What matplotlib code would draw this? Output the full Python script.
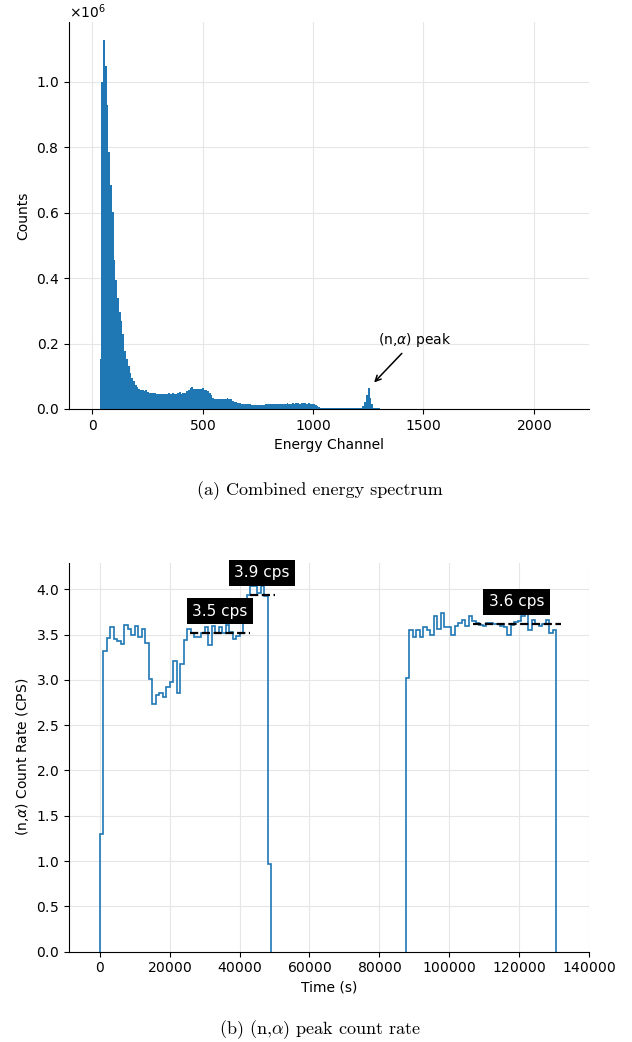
import matplotlib
matplotlib.use("Agg")
import matplotlib.pyplot as plt
import numpy as np

# energy spectrum, 8-channel bins starting at channel 0, counts in thousands
bin_width = 8
spec_k = [
    0, 0, 0, 0, 153, 1000, 1126, 1049, 930, 786,          # 0-9
    683, 601, 455, 393, 339, 297, 270, 230, 178, 153,     # 10-19
    132, 109, 95, 85, 74, 66, 62, 59, 57, 55,             # 20-29
    57, 51, 49, 48, 48, 50, 45, 45, 46, 45,               # 30-39
    46, 46, 47, 48, 47, 50, 47, 47, 48, 51,               # 40-49
    47, 48, 50, 55, 58, 63, 66, 61, 60, 61,               # 50-59
    60, 62, 65, 58, 57, 54, 48, 42, 35, 31,               # 60-69
    30, 30, 30, 31, 32, 32, 33, 32, 30, 25,               # 70-79
    22, 20, 19, 17, 16, 15, 15, 15, 14, 14,               # 80-89
    13, 12, 12, 12, 12, 13, 13, 13, 14, 15,               # 90-99
    15, 15, 16, 15, 16, 16, 16, 15, 16, 16,               # 100-109
    17, 16, 16, 17, 16, 17, 17, 16, 17, 17,               # 110-119
    17, 16, 17, 16, 15, 14, 11, 8, 5, 4,                  # 120-129
    3, 3, 3, 2, 2, 2, 2, 2, 2, 2,                         # 130-139
    2, 2, 2, 2, 2, 2, 2, 2, 3, 3,                         # 140-149
    3, 3, 4, 8, 20, 43, 64, 35, 15, 4,                    # 150-159
    2, 1.5, 1.5, 1.2, 1.2, 1, 1, 1, 1, 1,                 # 160-169
    1, 1, 1, 1, 1, 1, 1, 1, 1, 1,                         # 170-179
    1, 1, 1, 1, 1, 1, 1, 1, 1, 1,                         # 180-189
    0.6, 0.6, 0.6, 0.6, 0.6, 0.6, 0.6, 0.6, 0.6, 0.6,     # 190-199
    0.6, 0.6, 0.6, 0.6, 0.6, 0.6, 0.6, 0.6, 0.6, 0.6,     # 200-209
    0.6, 0.6, 0.6, 0.6, 0.6, 0.6, 0.6, 0.6, 0.6, 0.6,     # 210-219
    0.4, 0.4, 0.4, 0.4, 0.4, 0.4, 0.4, 0.4, 0.4, 0.4,     # 220-229
    0.4, 0.4, 0.4, 0.4, 0.4, 0.4, 0.4, 0.4, 0.4, 0.4,     # 230-239
    0.4, 0.4, 0.4, 0.4, 0.4, 0.4, 0.4, 0.4, 0.4, 0.4,     # 240-249
    0.4, 0.4, 0.4, 0.4, 0.4, 0.4, 0.4, 0.4, 0.4, 0.4,     # 250-259
    0.4, 0.4, 0.4, 0.4, 0.4, 0.4, 0.4, 0.4,               # 260-267
]

# (n,alpha) count rate, 1000 s bins
t_bin = 1000
run1_start = 0
rate1 = [1.30, 3.32, 3.46, 3.58, 3.45, 3.43, 3.40, 3.61, 3.56, 3.50,
         3.60, 3.47, 3.56, 3.41, 3.01, 2.73, 2.83, 2.86, 2.81, 2.92,
         2.98, 3.21, 2.85, 3.17, 3.44, 3.56, 3.52, 3.47, 3.47, 3.52,
         3.58, 3.39, 3.60, 3.52, 3.58, 3.52, 3.61, 3.53, 3.45, 3.48,
         3.52, 3.66, 3.94, 4.04, 4.04, 3.96, 4.04, 3.93, 0.97]
run2_start = 87600
rate2 = [3.02, 3.55, 3.47, 3.55, 3.47, 3.58, 3.55, 3.50, 3.71, 3.56,
         3.74, 3.58, 3.58, 3.50, 3.60, 3.63, 3.66, 3.60, 3.71, 3.65,
         3.63, 3.61, 3.59, 3.63, 3.63, 3.62, 3.62, 3.60, 3.58, 3.49,
         3.61, 3.64, 3.65, 3.70, 3.75, 3.55, 3.66, 3.62, 3.60, 3.62,
         3.66, 3.52, 3.55]

# mean rate markers: (start, end, mean, label)
mean_t0 = [25700, 42900, 106700]
mean_t1 = [42900, 50000, 131900]
mean_val = [3.52, 3.94, 3.62]
mean_lbl = ["3.5 cps", "3.9 cps", "3.6 cps"]

blue = "#1f77b4"
plt.rcParams["axes.formatter.use_mathtext"] = True
plt.rcParams["mathtext.fontset"] = "dejavusans"

fig = plt.figure(figsize=(6.32, 10.42), dpi=100)

# --- (a) spectrum
ax1 = fig.add_axes([0.109, 0.6075, 0.823, 0.3714])
counts = np.array(spec_k) * 1e3
edges = bin_width * np.arange(len(counts) + 1)
ax1.stairs(counts, edges, fill=True, color=blue)
ax1.set_xlim(-107, 2251)
ax1.set_ylim(0, counts.max() * 1.05)
ax1.ticklabel_format(axis="y", style="sci", scilimits=(0, 0))
ax1.set_xlabel("Energy Channel")
ax1.set_ylabel("Counts")
ax1.grid(True, color="#e6e6e6", lw=0.8)
ax1.set_axisbelow(True)
ax1.annotate(r"(n,$\alpha$) peak", xy=(1268, 0.075e6), xytext=(1462, 0.212e6),
             ha="center", va="center", fontsize=10,
             arrowprops=dict(arrowstyle="->", color="black", lw=1.1))

# --- (b) count rate
ax2 = fig.add_axes([0.109, 0.0867, 0.823, 0.373])
e1 = run1_start + t_bin * np.arange(len(rate1) + 1)
e2 = run2_start + t_bin * np.arange(len(rate2) + 1)
ax2.stairs(rate1, e1, baseline=0, color=blue, lw=1.2)
ax2.stairs(rate2, e2, baseline=0, color=blue, lw=1.2)
for a, b, m, s in zip(mean_t0, mean_t1, mean_val, mean_lbl):
    ax2.plot([a, b], [m, m], "k--", lw=1.6)
    ax2.text((a + b) / 2, m + 0.24, s, ha="center", va="center", color="white",
             fontsize=11, bbox=dict(facecolor="black", edgecolor="none", pad=4))
ax2.set_xlim(-8860, 140000)
ax2.set_ylim(0, 4.29)
ax2.set_xlabel("Time (s)")
ax2.set_ylabel(r"(n,$\alpha$) Count Rate (CPS)")
ax2.grid(True, color="#e6e6e6", lw=0.8)
ax2.set_axisbelow(True)

for ax in (ax1, ax2):
    ax.spines["top"].set_visible(False)
    ax.spines["right"].set_visible(False)

fig.text(0.506, 0.529, "(a) Combined energy spectrum", ha="center", va="center",
         fontsize=13, family="cmr10")
fig.text(0.506, 0.0115, r"(b) (n,$\alpha$) peak count rate", ha="center",
         va="center", fontsize=13, family="cmr10", math_fontfamily="cm")

fig.savefig("out.png", dpi=100)
